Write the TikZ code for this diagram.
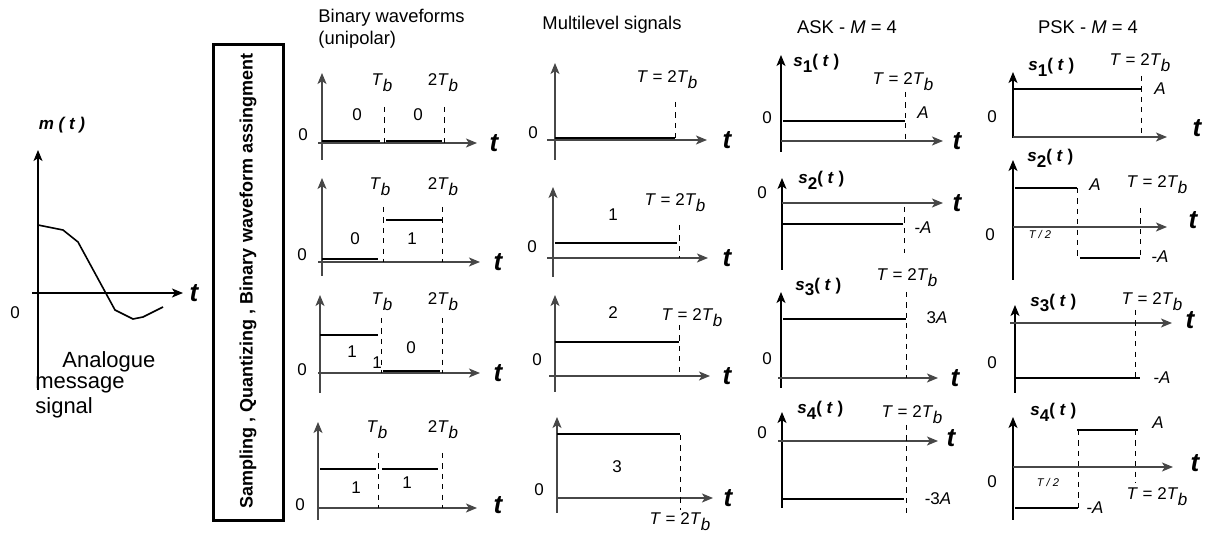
\documentclass[tikz,border=0pt]{standalone}
\usepackage{fontspec}
\setmainfont{Liberation Sans}
\usetikzlibrary{arrows.meta}
\newcommand\Tb{\textit{T\kern0.4pt\raisebox{-0.65ex}{b}}}
\newcommand\TTb{\textit{T} = 2\Tb}
\newcommand\sg[1]{\textbf{\textit{s}\raisebox{-0.65ex}{#1}( \textit{t} )}}
\begin{document}
\begin{tikzpicture}[x=0.5pt,y=-0.5pt,
  ax/.style={line width=0.75pt, draw=black!72, -{Stealth[length=5.5pt,width=4.5pt,inset=1.4pt]}},
  sgl/.style={line width=1.1pt},
  dsh/.style={line width=0.5pt, dash pattern=on 2.6pt off 2.6pt},
  lbl/.style={font=\fontsize{8.5}{10}\selectfont, inner sep=0pt},
  sml/.style={font=\fontsize{5.6}{7}\selectfont\itshape, inner sep=0pt},
  tl/.style={font=\fontsize{13}{14}\selectfont\bfseries\itshape, inner sep=0pt},
  ttl/.style={font=\fontsize{9.2}{10.5}\selectfont, inner sep=0pt},
  big/.style={font=\fontsize{11}{13}\selectfont, inner sep=0pt, anchor=west},
  sl/.style={lbl, anchor=west}]
\useasboundingbox (0,0) rectangle (1207,533);

% ---------- analogue message ----------
\node[lbl, font=\fontsize{8.5}{10}\selectfont\bfseries\itshape] (mt) at (62,125) {m ( t )};
\draw[ax, draw=black] (38,390) -- (38,150);
\draw[ax, draw=black] (32,293) -- (183,293);
\node[tl] (mtt) at (194,293) {t};
\node[lbl] (m0) at (15,313) {0};
\draw[line width=0.8pt] (38,225) -- (63,230) -- (78,242) -- (115,310) -- (133,319) -- (143,317) -- (163,307);
\node[big] (an1) at (62,362) {Analogue};
\node[big] (an2) at (35,385) {message};
\node[big] (an3) at (35,408) {signal};

% ---------- box ----------
\draw[line width=1.5pt] (213,45) rectangle (283,521);
\node[rotate=90, font=\fontsize{9}{10}\selectfont\bfseries, inner sep=0pt] (box) at (248,281)
  {Sampling , Quantizing , Binary waveform assingment};

% ---------- binary waveforms ----------
\node[ttl, anchor=west] (bt1) at (318,18) {Binary waveforms};
\node[ttl, anchor=west] (bt2) at (318,40) {(unipolar)};
% plot 1
\draw[ax] (322,160) -- (322,73);
\draw[ax] (318,143) -- (477,143);
\draw[sgl] (322,141) -- (380,141);
\draw[sgl] (386,141) -- (442,141);
\draw[dsh] (384,107) -- (384,143);
\draw[dsh] (444,107) -- (444,143);
\node[lbl] (b10) at (303,135) {0};
\node[lbl] (b1a) at (382,83) {\Tb};
\node[lbl] (b1b) at (443,83) {2\Tb};
\node[lbl] (b1c) at (357,115) {0};
\node[lbl] (b1d) at (418,115) {0};
\node[tl] (b1t) at (494,143) {t};
% plot 2
\draw[ax] (322,276) -- (322,178);
\draw[ax] (318,262) -- (480,262);
\draw[sgl] (322,259) -- (378,259);
\draw[sgl] (386,220) -- (442,220);
\draw[dsh] (383,207) -- (383,262);
\draw[dsh] (442,207) -- (442,262);
\node[lbl] (b20) at (302,255) {0};
\node[lbl] (b2a) at (380,187) {\Tb};
\node[lbl] (b2b) at (443,187) {2\Tb};
\node[lbl] (b2c) at (355,239) {0};
\node[lbl] (b2d) at (412,239) {1};
\node[tl] (b2t) at (498,262) {t};
% plot 3
\draw[ax] (320,393) -- (320,295);
\draw[ax] (318,373) -- (480,373);
\draw[sgl] (320,335) -- (378,335);
\draw[sgl] (383,371) -- (440,371);
\draw[dsh] (381,318) -- (381,373);
\draw[dsh] (442,318) -- (442,373);
\node[lbl] (b30) at (302,370) {0};
\node[lbl] (b3a) at (382,302) {\Tb};
\node[lbl] (b3b) at (443,302) {2\Tb};
\node[lbl] (b3c) at (352,352) {1};
\node[lbl] (b3e) at (377,363) {1};
\node[lbl] (b3d) at (411,348) {0};
\node[tl] (b3t) at (498,373) {t};
% plot 4
\draw[ax] (318,520) -- (318,422);
\draw[ax] (318,508) -- (477,508);
\draw[sgl] (320,469) -- (376,469);
\draw[sgl] (382,469) -- (438,469);
\draw[dsh] (378,453) -- (378,508);
\draw[dsh] (442,453) -- (442,508);
\node[lbl] (b40) at (300,505) {0};
\node[lbl] (b4a) at (377,430) {\Tb};
\node[lbl] (b4b) at (443,430) {2\Tb};
\node[lbl] (b4c) at (356,488) {1};
\node[lbl] (b4d) at (407,483) {1};
\node[tl] (b4t) at (498,505) {t};

% ---------- multilevel ----------
\node[ttl] (mlt) at (612,25) {Multilevel signals};
% 1
\draw[ax] (555,160) -- (555,63);
\draw[ax] (547,140) -- (707,140);
\draw[sgl] (555,138) -- (675,138);
\draw[dsh] (675,102) -- (675,140);
\node[lbl] (m10) at (533,133) {0};
\node[lbl] (m1T) at (667,80) {\TTb};
\node[tl] (m1t) at (727,140) {t};
% 2
\draw[ax] (553,277) -- (553,187);
\draw[ax] (547,258) -- (708,258);
\draw[sgl] (555,243) -- (677,243);
\draw[dsh] (679,225) -- (679,258);
\node[lbl] (m20) at (532,247) {0};
\node[lbl] (m2T) at (675,203) {\TTb};
\node[lbl] (m2v) at (613,215) {1};
\node[tl] (m2t) at (727,258) {t};
% 3
\draw[ax] (555,392) -- (555,295);
\draw[ax] (549,376) -- (710,376);
\draw[sgl] (555,342) -- (679,342);
\draw[dsh] (679,325) -- (679,376);
\node[lbl] (m30) at (537,360) {0};
\node[lbl] (m3v) at (613,313) {2};
\node[lbl] (m3T) at (692,318) {\TTb};
\node[tl] (m3t) at (727,376) {t};
% 4
\draw[ax] (557,513) -- (557,417);
\draw[ax] (557,498) -- (713,498);
\draw[sgl] (557,434) -- (680,434);
\draw[dsh] (680,435) -- (680,510);
\node[lbl] (m40) at (539,490) {0};
\node[lbl] (m4v) at (617,467) {3};
\node[lbl] (m4T) at (680,522) {\TTb};
\node[tl] (m4t) at (728,498) {t};

% ---------- ASK ----------
\node[ttl] (askt) at (847,27) {ASK - \textit{M} = 4};
% 1
\draw[ax, draw=black] (781,152) -- (781,55);
\draw[ax] (781,141) -- (943,141);
\draw[sgl] (783,121) -- (905,121);
\draw[dsh] (905,92) -- (905,141);
\node[sl] (a1s) at (793,63) {\sg{1}};
\node[lbl] (a1T) at (903,82) {\TTb};
\node[lbl] (a1A) at (923,113) {\textit{A}};
\node[lbl] (a10) at (767,118) {0};
\node[tl] (a1t) at (957,141) {t};
% 2
\draw[ax, draw=black] (782,270) -- (782,178);
\draw[ax] (782,203) -- (943,203);
\draw[sgl] (782,224) -- (903,224);
\draw[dsh] (904,207) -- (904,253);
\node[sl] (a2s) at (798,180) {\sg{2}};
\node[lbl] (a20) at (762,193) {0};
\node[lbl] (a2A) at (923,228) {-\textit{A}};
\node[tl] (a2t) at (957,203) {t};
% 3
\draw[ax, draw=black] (781,388) -- (781,292);
\draw[ax] (778,378) -- (938,378);
\draw[sgl] (783,319) -- (906,319);
\draw[dsh] (906,292) -- (906,378);
\node[sl] (a3s) at (795,287) {\sg{3}};
\node[lbl] (a3T) at (907,278) {\TTb};
\node[lbl] (a30) at (767,359) {0};
\node[lbl] (a3A) at (937,318) {3\textit{A}};
\node[tl] (a3t) at (955,378) {t};
% 4
\draw[ax, draw=black] (782,508) -- (782,412);
\draw[ax] (778,441) -- (938,441);
\draw[sgl] (782,499) -- (904,499);
\draw[dsh] (906,425) -- (906,513);
\node[sl] (a4s) at (797,410) {\sg{4}};
\node[lbl] (a4T) at (912,415) {\TTb};
\node[lbl] (a40) at (762,433) {0};
\node[lbl] (a4A) at (938,499) {-3\textit{A}};
\node[tl] (a4t) at (951,438) {t};

% ---------- PSK ----------
\node[ttl] (pskt) at (1088,27) {PSK - \textit{M} = 4};
% 1
\draw[ax, draw=black] (1013,138) -- (1013,72);
\draw[ax] (1013,137) -- (1167,137);
\draw[sgl] (1013,89) -- (1142,89);
\draw[dsh] (1141,76) -- (1141,137);
\node[sl] (p1s) at (1028,67) {\sg{1}};
\node[lbl] (p1T) at (1140,63) {\TTb};
\node[lbl] (p1A) at (1160,89) {\textit{A}};
\node[lbl] (p10) at (992,117) {0};
\node[tl] (p1t) at (1197,128) {t};
% 2
\draw[ax, draw=black] (1013,280) -- (1013,160);
\draw[ax] (1013,227) -- (1167,227);
\draw[sgl] (1015,188) -- (1077,188);
\draw[sgl] (1080,258) -- (1140,258);
\draw[dsh] (1077,188) -- (1077,258);
\draw[dsh] (1140,208) -- (1140,258);
\node[sl] (p2s) at (1027,158) {\sg{2}};
\node[lbl] (p2A) at (1095,185) {\textit{A}};
\node[lbl] (p2T) at (1157,185) {\TTb};
\node[lbl] (p20) at (990,235) {0};
\node[sml] (p2h) at (1040,235) {T / 2};
\node[lbl] (p2B) at (1160,257) {-\textit{A}};
\node[tl] (p2t) at (1193,220) {t};
% 3
\draw[ax, draw=black] (1015,393) -- (1015,305);
\draw[ax] (1010,323) -- (1172,323);
\draw[sgl] (1015,378) -- (1140,378);
\draw[dsh] (1135,310) -- (1135,378);
\node[sl] (p3s) at (1030,303) {\sg{3}};
\node[lbl] (p3T) at (1152,302) {\TTb};
\node[lbl] (p30) at (992,363) {0};
\node[lbl] (p3A) at (1162,378) {-\textit{A}};
\node[tl] (p3t) at (1190,320) {t};
% 4
\draw[ax, draw=black] (1013,520) -- (1013,417);
\draw[ax] (1013,467) -- (1173,467);
\draw[sgl] (1077,430) -- (1138,430);
\draw[sgl] (1015,508) -- (1078,508);
\draw[dsh] (1078,430) -- (1078,508);
\draw[dsh] (1135,430) -- (1135,483);
\node[sl] (p4s) at (1030,412) {\sg{4}};
\node[lbl] (p4A) at (1158,423) {\textit{A}};
\node[lbl] (p40) at (992,482) {0};
\node[sml] (p4h) at (1048,483) {T / 2};
\node[lbl] (p4B) at (1095,508) {-\textit{A}};
\node[lbl] (p4T) at (1157,497) {\TTb};
\node[tl] (p4t) at (1195,463) {t};
\end{tikzpicture}
\end{document}
